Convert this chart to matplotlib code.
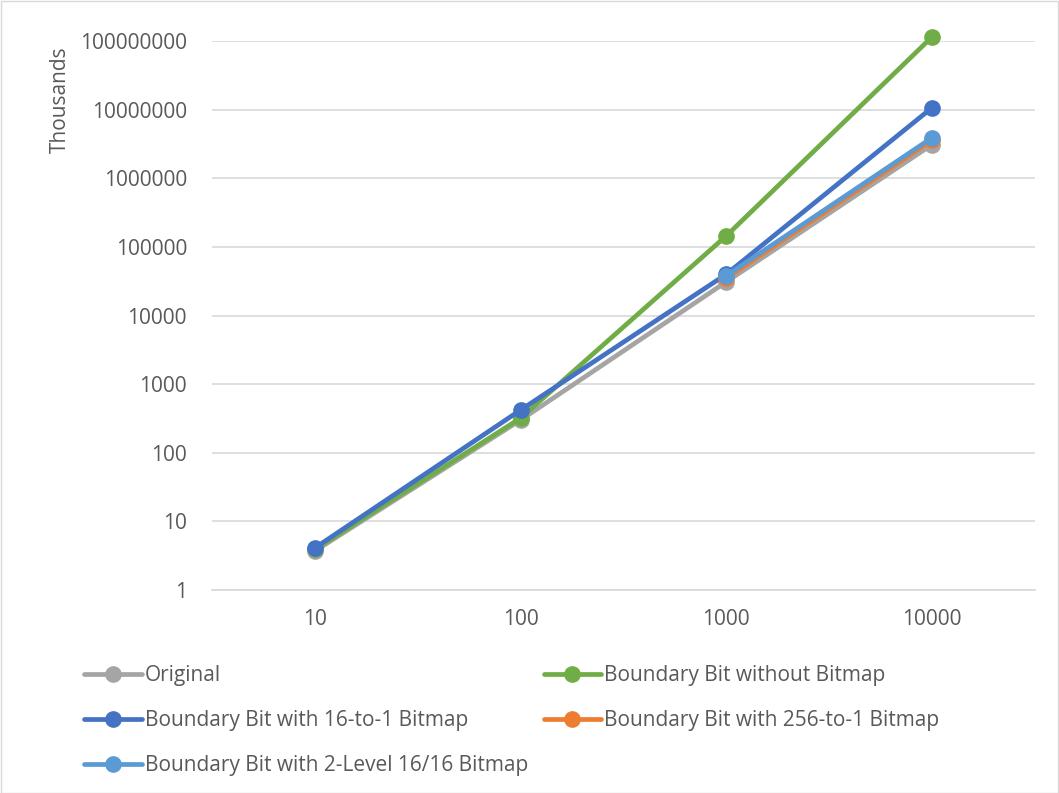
import numpy as np
import matplotlib
matplotlib.use('Agg')
import matplotlib.pyplot as plt
from matplotlib.ticker import FuncFormatter, FixedLocator
import matplotlib.patches as patches

plt.rcParams['font.family'] = ['Open Sans', 'DejaVu Sans']

categories = ['10', '100', '1000', '10000']
original = [3.7, 300, 31000, 3.1e6]
no_bitmap = [3.9, 320, 145000, 1.15e8]
bitmap_16 = [4.1, 420, 40000, 1.07e7]
bitmap_256 = [np.nan, np.nan, 35000, 3.6e6]
bitmap_2level = [np.nan, np.nan, 38000, 3.9e6]

series = [
    ('Original', original, '#a5a5a5'),
    ('Boundary Bit without Bitmap', no_bitmap, '#70ad47'),
    ('Boundary Bit with 16-to-1 Bitmap', bitmap_16, '#4472c4'),
    ('Boundary Bit with 256-to-1 Bitmap', bitmap_256, '#ed7d31'),
    ('Boundary Bit with 2-Level 16/16 Bitmap', bitmap_2level, '#5b9bd5'),
]

W, H = 1059, 793
fig = plt.figure(figsize=(W / 100, H / 100), dpi=100)
ax = fig.add_axes([212 / W, 1 - 590 / H, (1035 - 212) / W, (590 - 41) / H])

x = np.arange(len(categories))
for name, vals, col in series:
    ax.plot(x, vals, color=col, lw=3.4, marker='o', ms=11, label=name,
            solid_capstyle='round', clip_on=False)

ax.set_yscale('log')
ax.set_ylim(1, 1e8)
ax.set_xlim(-0.5, len(categories) - 0.5)
ax.yaxis.set_major_locator(FixedLocator([10 ** i for i in range(9)]))
ax.yaxis.set_minor_locator(FixedLocator([]))
ax.yaxis.set_major_formatter(FuncFormatter(lambda v, p: '%d' % round(v)))
ax.set_xticks(x)
ax.set_xticklabels(categories)
ax.grid(axis='y', color='#d9d9d9', lw=1.2)
ax.set_axisbelow(True)
for s in ['top', 'right', 'left']:
    ax.spines[s].set_visible(False)
ax.spines['bottom'].set_color('#d9d9d9')
ax.spines['bottom'].set_linewidth(1.2)
ax.tick_params(axis='both', length=0, labelsize=15, colors='#595959')
ax.tick_params(axis='x', pad=14)
ax.tick_params(axis='y', pad=18)

fig.text(60 / W, 1 - 100 / H, 'Thousands', rotation=90, ha='center', va='center',
         fontsize=15, color='#595959')

handles, labels = ax.get_legend_handles_labels()
order = [0, 2, 4, 1, 3]
leg = fig.legend([handles[i] for i in order], [labels[i] for i in order],
                 ncol=2, loc='upper left', bbox_to_anchor=(76 / W, 1 - 657 / H),
                 frameon=False, fontsize=15, handlelength=2.75, handletextpad=0.15,
                 columnspacing=0.75, labelspacing=1.15, labelcolor='#595959',
                 borderaxespad=0)

fig.patches.append(patches.Rectangle((0.5 / W, 0.5 / H), 1 - 1.5 / W, 1 - 1.5 / H,
                                     transform=fig.transFigure, fill=False,
                                     edgecolor='#d9d9d9', lw=1))

fig.savefig('out.png', dpi=100)
